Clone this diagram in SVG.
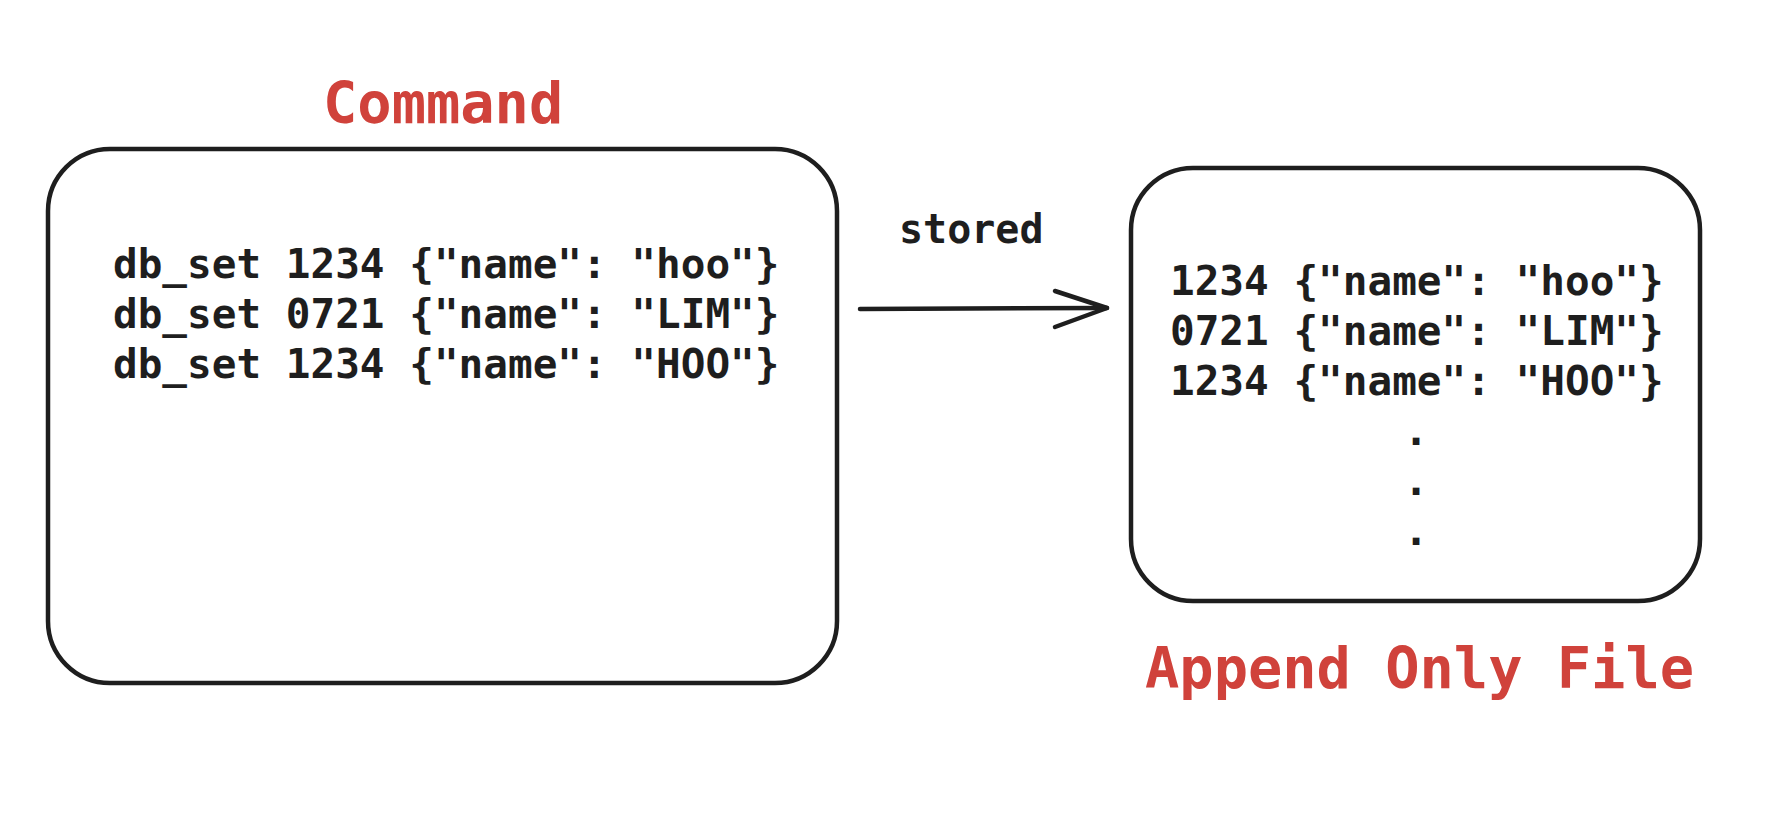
<svg xmlns="http://www.w3.org/2000/svg" width="1778" height="828" viewBox="0 0 1778 828">
  <style>
    .box { fill: #ffffff; stroke: #1e1e1e; stroke-width: 4.5; }
    .code { font-family: "DejaVu Sans Mono", "Liberation Mono", monospace; font-size: 41px; font-weight: bold; fill: #1e1e1e; white-space: pre; }
    .title { font-family: "DejaVu Sans Mono", "Liberation Mono", monospace; font-size: 57px; font-weight: bold; fill: #d0423b; }
    .edge { fill: none; stroke: #1e1e1e; stroke-width: 4.5; stroke-linecap: round; stroke-linejoin: round; }
  </style>
  <rect width="1778" height="828" fill="#ffffff"/>

  <g id="node-command">
    <rect class="box" x="48" y="149" width="789" height="534" rx="62" ry="62"/>
    <text class="title" x="323" y="123">Command</text>
    <text class="code" x="113" y="278">db_set 1234 {"name": "hoo"}</text>
    <text class="code" x="113" y="328">db_set 0721 {"name": "LIM"}</text>
    <text class="code" x="113" y="378">db_set 1234 {"name": "HOO"}</text>
  </g>

  <g id="node-aof">
    <rect class="box" x="1131" y="168" width="569" height="433" rx="62" ry="62"/>
    <text class="code" x="1170" y="295">1234 {"name": "hoo"}</text>
    <text class="code" x="1170" y="345">0721 {"name": "LIM"}</text>
    <text class="code" x="1170" y="395">1234 {"name": "HOO"}</text>
    <text class="code" x="1416" y="445" text-anchor="middle">.</text>
    <text class="code" x="1416" y="495" text-anchor="middle">.</text>
    <text class="code" x="1416" y="545" text-anchor="middle">.</text>
    <text class="title" x="1145" y="688">Append Only File</text>
  </g>

  <g id="connectors">
    <path class="edge" d="M 860 309 L 1107 308"/>
    <path class="edge" d="M 1055 291 L 1107 308 L 1055 327"/>
    <text class="code" x="899" y="243" style="font-size:40px">stored</text>
  </g>
</svg>
